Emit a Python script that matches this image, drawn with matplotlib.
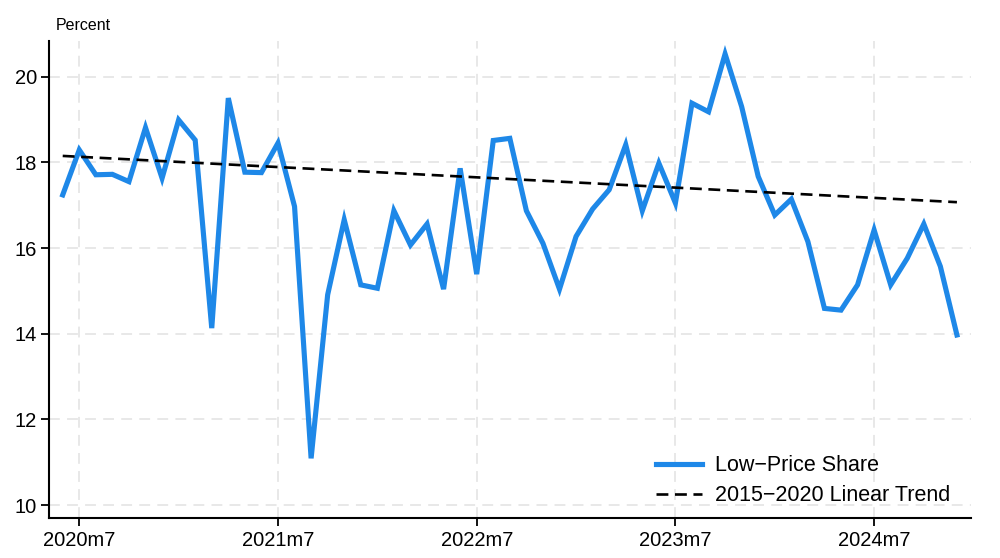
import matplotlib
matplotlib.use("Agg")
import matplotlib.pyplot as plt

plt.rcParams['font.family'] = ['Liberation Sans', 'DejaVu Sans']

# monthly, 2020m6 .. 2024m12
months = [f"{y}m{m}" for y in range(2020, 2025) for m in range(1, 13)][5:]
low_price_share = [
    17.24, 18.29, 17.71, 17.72, 17.55, 18.81, 17.63,   # 2020m6-m12
    18.99, 18.52, 14.13, 19.50, 17.77, 17.76, 18.45,   # 2021m1-m7
    16.97, 11.09, 14.91, 16.66, 15.14,                 # 2021m8-m12
    15.06, 16.87, 16.07, 16.56, 15.04, 17.86, 15.39,   # 2022m1-m7
    18.51, 18.56, 16.87, 16.11, 15.04,                 # 2022m8-m12
    16.27, 16.91, 17.36, 18.41, 16.87, 17.98, 17.05,   # 2023m1-m7
    19.38, 19.18, 20.53, 19.30, 17.67,                 # 2023m8-m12
    16.77, 17.14, 16.15, 14.59, 14.55, 15.14, 16.42,   # 2024m1-m7
    15.14, 15.76, 16.56, 15.57, 13.97,                 # 2024m8-m12
]
# 2015-2020 linear trend, value at first and last month
trend_ends = [18.15, 17.07]

tick_labels = ["2020m7", "2021m7", "2022m7", "2023m7", "2024m7"]
y_ticks = [10, 12, 14, 16, 18, 20]

x = list(range(len(low_price_share)))
tick_pos = [months.index(t) for t in tick_labels]

fig = plt.figure(figsize=(10, 5.58), dpi=100)
ax = fig.add_axes([0.0493, 0.0711, 0.9217, 0.856])

blue = '#1e88e8'
ax.plot(x, low_price_share, color=blue, lw=3.7, solid_joinstyle='miter',
        label='Low\u2212Price Share', zorder=3)
ax.plot([x[0], x[-1]], trend_ends, color='black', lw=1.9,
        dashes=(4.5, 2.5), label='2015\u22122020 Linear Trend', zorder=4)

ax.set_xlim(-0.81, 54.85)
ax.set_ylim(9.69, 20.84)
ax.set_xticks(tick_pos)
ax.set_xticklabels(tick_labels)
ax.set_yticks(y_ticks)

for s in ['top', 'right']:
    ax.spines[s].set_visible(False)
for s in ['left', 'bottom']:
    ax.spines[s].set_linewidth(1.5)
ax.tick_params(axis='both', length=6, width=1.3, labelsize=14.5, pad=3)
ax.grid(True, color='#e6e6e6', lw=1.3, dashes=(6, 4))
ax.set_axisbelow(True)

fig.text(0.0557, 1 - 26 / 558, 'Percent', fontsize=11.5, va='center')

ax.legend(loc='lower right', bbox_to_anchor=(0.998, -0.015), frameon=False,
          fontsize=15.5, handlelength=2.1, handletextpad=0.6, labelspacing=0.42)

fig.savefig('out.png', dpi=100)
